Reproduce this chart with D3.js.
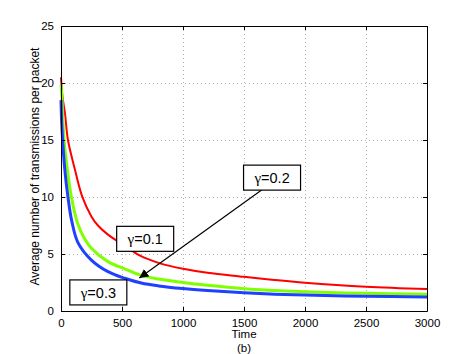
<!DOCTYPE html>
<html>
<head>
<meta charset="utf-8">
<script src="https://cdn.jsdelivr.net/npm/d3@7"></script>
<style>
  body { margin: 0; background: #fff; }
  svg { display: block; font-family: "Liberation Sans", Arial, sans-serif; }
</style>
</head>
<body>
<svg id="chart"></svg>
<script>
// values
const timeRed   = [0, 12, 33, 57, 112, 172, 249, 303, 385, 467, 560, 648, 811, 1000, 1200, 1500, 1750, 2000, 2500, 3000]
const avgRed    = [20.5, 18.8, 17.3, 15.0, 12.5, 10.1, 8.3, 7.5, 6.7, 6.1, 5.45, 4.85, 4.18, 3.7, 3.35, 3.0, 2.72, 2.48, 2.13, 1.93]

const timeGreen = [0, 5, 25, 50, 85, 139, 190, 249, 385, 522, 650, 800, 1000, 1200, 1500, 1750, 2000, 2500, 3000]
const avgGreen  = [19.8, 19.2, 15.0, 12.6, 10.0, 7.6, 6.4, 5.5, 4.33, 3.7, 3.15, 2.8, 2.5, 2.25, 1.95, 1.8, 1.68, 1.55, 1.46]

const timeBlue  = [0, 8, 33, 57, 88, 139, 249, 385, 522, 658, 800, 1000, 1200, 1500, 1750, 2000, 2500, 3000]
const avgBlue   = [18.5, 16.0, 12.2, 10.0, 7.9, 6.0, 4.47, 3.45, 2.87, 2.45, 2.2, 1.97, 1.8, 1.6, 1.48, 1.4, 1.29, 1.23]

const xTicks = [0, 500, 1000, 1500, 2000, 2500, 3000]
const yTicks = [0, 5, 10, 15, 20, 25]

// label boxes: centre in data coords
const labelValue = ["0.1", "0.2", "0.3"]
const labelT     = [690, 1730, 306]
const labelV     = [6.33, 11.7, 1.63]
// arrow from the γ=0.2 box to the green curve
const arrowT = [1656, 642]
const arrowV = [10.7, 2.9]

const width = 471
const height = 354
const margin = {top: 26, right: 44, bottom: 43, left: 61}

const svg = d3.select("#chart")
  .attr("width", width)
  .attr("height", height)

const x = d3.scaleLinear().domain([0, 3000]).range([margin.left, width - margin.right])
const y = d3.scaleLinear().domain([0, 25]).range([height - margin.bottom, margin.top])

// grid
const grid = svg.append("g")
  .attr("stroke", "#b0b0b0")
  .attr("stroke-width", 1)
  .attr("stroke-dasharray", "1,3")
grid.selectAll(".gx")
  .data(xTicks.slice(1, -1))
  .join("line")
    .attr("x1", d => Math.round(x(d)) + 0.5)
    .attr("x2", d => Math.round(x(d)) + 0.5)
    .attr("y1", y(25))
    .attr("y2", y(0))
grid.selectAll(".gy")
  .data(yTicks.slice(1, -1))
  .join("line")
    .attr("y1", d => Math.round(y(d)) + 0.5)
    .attr("y2", d => Math.round(y(d)) + 0.5)
    .attr("x1", x(0))
    .attr("x2", x(3000))

// curves
const series = [
  {t: timeRed, v: avgRed, color: "#ff0000", w: 2},
  {t: timeGreen, v: avgGreen, color: "#80ff00", w: 3},
  {t: timeBlue, v: avgBlue, color: "#2040ff", w: 3}
]
const line = d3.line()
  .x(d => x(d[0]))
  .y(d => y(d[1]))
  .curve(d3.curveCatmullRom.alpha(0.5))

svg.append("g")
  .selectAll("path")
  .data(series)
  .join("path")
    .attr("fill", "none")
    .attr("stroke", d => d.color)
    .attr("stroke-width", d => d.w)
    .attr("d", d => line(d.t.map((t, i) => [t, d.v[i]])))

// axes (ticks point inward, box all round)
const xAxis = d3.axisBottom(x).tickValues(xTicks).tickFormat(d3.format("d"))
  .tickSizeInner(-4).tickSizeOuter(0).tickPadding(8)
const yAxis = d3.axisLeft(y).tickValues(yTicks).tickFormat(d3.format("d"))
  .tickSizeInner(-4).tickSizeOuter(0).tickPadding(7)

svg.append("g")
  .attr("transform", `translate(0,${y(0)})`)
  .call(xAxis)
svg.append("g")
  .attr("transform", `translate(${x(0)},0)`)
  .call(yAxis)
svg.append("g")
  .attr("transform", `translate(0,${y(25)})`)
  .call(d3.axisTop(x).tickValues(xTicks).tickSizeInner(-4).tickSizeOuter(0).tickFormat(""))
svg.append("g")
  .attr("transform", `translate(${x(3000)},0)`)
  .call(d3.axisRight(y).tickValues(yTicks).tickSizeInner(-4).tickSizeOuter(0).tickFormat(""))

svg.selectAll(".domain").attr("stroke", "#000")
svg.selectAll(".tick line").attr("stroke", "#000")
svg.selectAll(".tick text")
  .attr("font-family", "Liberation Sans, Arial, sans-serif")
  .attr("font-size", 11.5)
  .attr("fill", "#000")

// axis titles
svg.append("text")
  .attr("x", (x(0) + x(3000)) / 2)
  .attr("y", 338)
  .attr("text-anchor", "middle")
  .attr("font-size", 11.5)
  .text("Time")
svg.append("text")
  .attr("x", (x(0) + x(3000)) / 2)
  .attr("y", 352)
  .attr("text-anchor", "middle")
  .attr("font-size", 11.5)
  .text("(b)")
svg.append("text")
  .attr("transform", `translate(39,${(y(0) + y(25)) / 2 - 2}) rotate(-90)`)
  .attr("text-anchor", "middle")
  .attr("font-size", 12)
  .text("Average number of transmissions per packet")

// arrow
svg.append("defs").append("marker")
  .attr("id", "head")
  .attr("viewBox", "0 0 10 10")
  .attr("refX", 10)
  .attr("refY", 5)
  .attr("markerWidth", 9)
  .attr("markerHeight", 9)
  .attr("markerUnits", "userSpaceOnUse")
  .attr("orient", "auto")
  .append("path")
    .attr("d", "M0,0 L10,5 L0,10 z")
    .attr("fill", "#000")

svg.append("line")
  .attr("x1", x(arrowT[0]))
  .attr("y1", y(arrowV[0]))
  .attr("x2", x(arrowT[1]))
  .attr("y2", y(arrowV[1]))
  .attr("stroke", "#000")
  .attr("stroke-width", 1.2)
  .attr("marker-end", "url(#head)")

// label boxes
const labels = svg.append("g")
  .selectAll("g")
  .data(labelValue)
  .join("g")
    .attr("transform", (d, i) => `translate(${x(labelT[i])},${y(labelV[i])})`)

labels.append("rect")
  .attr("x", -28.5)
  .attr("y", -12.5)
  .attr("width", 57)
  .attr("height", 25)
  .attr("fill", "#fff")
  .attr("stroke", "#000")
  .attr("stroke-width", 1.2)

const lt = labels.append("text")
  .attr("text-anchor", "middle")
  .attr("dy", "0.36em")
  .attr("font-size", 14.5)
lt.append("tspan")
  .attr("font-family", "Liberation Serif, serif")
  .attr("font-size", 15)
  .text("\u03b3")
lt.append("tspan")
  .text(d => "=" + d)
</script>
</body>
</html>
